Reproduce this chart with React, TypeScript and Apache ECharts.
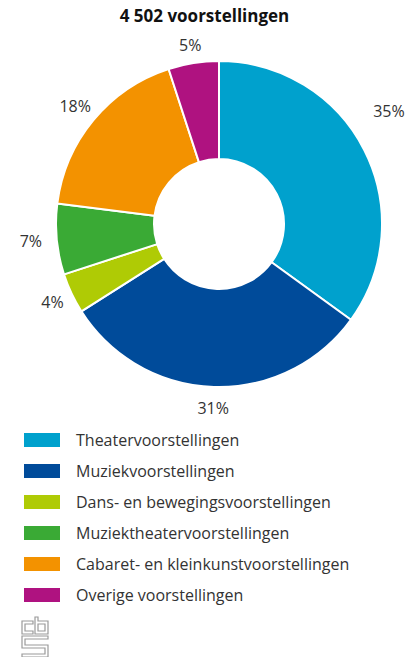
import React, { useEffect, useRef } from "react";
import * as echarts from "echarts";

const categories = [
  "Theatervoorstellingen",
  "Muziekvoorstellingen",
  "Dans- en bewegingsvoorstellingen",
  "Muziektheatervoorstellingen",
  "Cabaret- en kleinkunstvoorstellingen",
  "Overige voorstellingen",
];
const shares = [35, 31, 4, 7, 18, 5];
const colors = ["#00a1cd", "#004b9a", "#afcb05", "#3aaa35", "#f39200", "#af1280"];
const titleText = "4 502 voorstellingen";

const logoPath =
  "M0 4 H11 V7 H3 V14 H11 V17 H0 Z " +
  "M13 0 H16 V4 H26 V17 H13 Z M16 7 V14 H23 V7 Z " +
  "M0 19 H26 V22 H3 V28 H26 V40 H0 V37 H23 V31 H0 Z";

let registered = false;

export default function App() {
  const ref = useRef<HTMLDivElement>(null);
  useEffect(() => {
    if (!ref.current) return;
    if (!registered) {
      echarts.graphic.registerShape("logo", echarts.graphic.extendPath(logoPath, {}) as any);
      registered = true;
    }
    const chart = echarts.init(ref.current, undefined, { renderer: "svg" });
    const font = "'Open Sans', 'Noto Sans', sans-serif";
    chart.setOption({
      animation: false,
      textStyle: { fontFamily: font },
      title: {
        text: titleText,
        left: "center",
        top: 2,
        textStyle: { fontSize: 17, fontWeight: "bold", color: "#111", fontFamily: font },
      },
      legend: {
        orient: "vertical",
        left: 22,
        top: 431,
        padding: 0,
        itemWidth: 38,
        itemHeight: 16,
        itemGap: 13,
        icon: "rect",
        textStyle: { fontSize: 16, color: "#333", fontFamily: font, padding: [0, 0, 0, 10] },
        data: categories.map((name, i) => ({ name, itemStyle: { color: colors[i] } })),
      },
      series: [
        {
          type: "pie",
          center: [219, 224],
          radius: [65, 163],
          startAngle: 90,
          clockwise: true,
          itemStyle: { borderColor: "#fff", borderWidth: 2 },
          label: { show: false },
          labelLine: { show: false },
          emphasis: { disabled: true },
          data: categories.map((name, i) => ({
            name,
            value: shares[i],
            itemStyle: { color: colors[i] },
          })),
        },
        {
          type: "pie",
          center: [219, 224],
          radius: [163, 199],
          startAngle: 90,
          clockwise: true,
          silent: true,
          itemStyle: { color: "rgba(0,0,0,0)", borderWidth: 0 },
          label: {
            show: true,
            position: "inside",
            rotate: 0,
            formatter: "{c}%",
            fontSize: 16,
            color: "#333",
            fontFamily: font,
          },
          labelLine: { show: false },
          emphasis: { disabled: true },
          data: categories.map((name, i) => ({
            name,
            value: shares[i],
            label:
              i === 0
                ? { offset: [6, -29] }
                : i === 3
                ? { offset: [-5, 0] }
                : i === 4
                ? { offset: [-2, -1] }
                : i === 5
                ? { offset: [0, 3] }
                : undefined,
          })),
        },
      ],
      graphic: [
        {
          type: "logo",
          x: 22,
          y: 617,
          style: { fill: "none", stroke: "#9a9a9a", lineWidth: 1.2 },
        } as any,
      ],
    });
    return () => chart.dispose();
  }, []);
  return (
    <div
      ref={ref}
      style={{ position: "fixed", left: 0, top: 0, width: 409, height: 657, background: "#fff" }}
    />
  );
}
